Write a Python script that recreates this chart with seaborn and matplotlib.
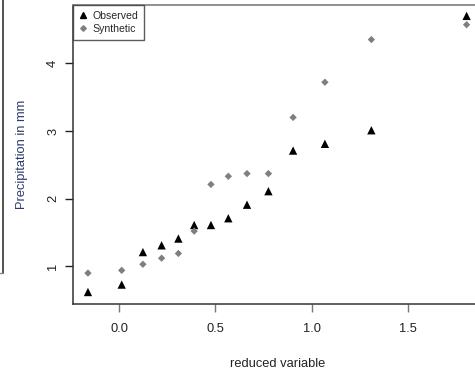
import matplotlib
matplotlib.use("Agg")
import matplotlib.pyplot as plt
from matplotlib.lines import Line2D
import seaborn as sns
import pandas as pd

reduced_variable = [-0.161, 0.014, 0.124, 0.221, 0.308, 0.390, 0.477, 0.567,
                    0.664, 0.775, 0.903, 1.068, 1.309, 1.803]
observed = [0.62, 0.73, 1.21, 1.31, 1.41, 1.61, 1.61, 1.71, 1.91, 2.11,
            2.71, 2.81, 3.01, 4.70]
synthetic = [0.90, 0.94, 1.03, 1.12, 1.19, 1.52, 2.21, 2.33, 2.37, 2.37,
             3.20, 3.72, 4.35, 4.57]
series_names = ["Observed", "Synthetic"]
x_ticks = [0.0, 0.5, 1.0, 1.5]
y_ticks = [1, 2, 3, 4]

df = pd.DataFrame({
    "x": reduced_variable * 2,
    "y": observed + synthetic,
    "series": [series_names[0]] * len(observed) + [series_names[1]] * len(synthetic),
})

sns.set_style("white")
plt.rcParams["font.family"] = ["Liberation Sans", "DejaVu Sans"]

fig = plt.figure(figsize=(4.75, 3.74), dpi=100)
ax = fig.add_axes([73 / 475, 1 - 304 / 374, (483 - 73) / 475, (304 - 5) / 374])

sns.scatterplot(data=df[df.series == "Observed"], x="x", y="y", marker="^",
                color="black", s=36, edgecolor="none", ax=ax, legend=False)
sns.scatterplot(data=df[df.series == "Synthetic"], x="x", y="y", marker="D",
                color="#7f7f7f", s=14, edgecolor="none", ax=ax, legend=False)

ax.set_xlim(-0.2386, 1.888)
ax.set_ylim(0.443, 4.861)
ax.set_xticks(x_ticks)
ax.set_xticklabels([f"{t:.1f}" for t in x_ticks])
ax.set_yticks(y_ticks)
ax.set_yticklabels([str(t) for t in y_ticks], rotation=90, va="center")

ax.tick_params(axis="x", length=6, width=1, color="#777777", pad=8,
               labelsize=9.3, labelcolor="#222222", bottom=True)
ax.tick_params(axis="y", length=6, width=1, color="#222222", pad=4,
               labelsize=9.3, labelcolor="#222222", left=True)

for side in ["left", "bottom"]:
    ax.spines[side].set_color("#333333")
    ax.spines[side].set_linewidth(1.1)
ax.spines["top"].set_color("#888888")
ax.spines["top"].set_linewidth(1.3)
ax.spines["right"].set_visible(False)

ax.set_xlabel("reduced variable", fontsize=9.3, color="#222222", labelpad=16)
ax.set_ylabel("Precipitation in mm", fontsize=9.3, color="#2b3a6b", labelpad=14)

handles = [
    Line2D([], [], marker="^", color="black", linestyle="none", markersize=4.5),
    Line2D([], [], marker="D", color="#7f7f7f", linestyle="none", markersize=2.8),
]
leg = ax.legend(handles, series_names, loc="upper left", bbox_to_anchor=(0, 1),
                borderaxespad=0, frameon=True, fancybox=False, fontsize=7.6,
                handlelength=0.8, handletextpad=0.5, borderpad=0.55,
                labelspacing=0.3, edgecolor="#333333")
leg.get_frame().set_linewidth(1.0)

fig.add_artist(Line2D([3 / 475, 3 / 475], [1, 1 - 273 / 374],
                      transform=fig.transFigure, color="#333333", linewidth=1.2))
fig.add_artist(Line2D([0, 3 / 475], [1 - 273 / 374, 1 - 273 / 374],
                      transform=fig.transFigure, color="#888888", linewidth=1.0))

fig.savefig("out.png", dpi=100)
